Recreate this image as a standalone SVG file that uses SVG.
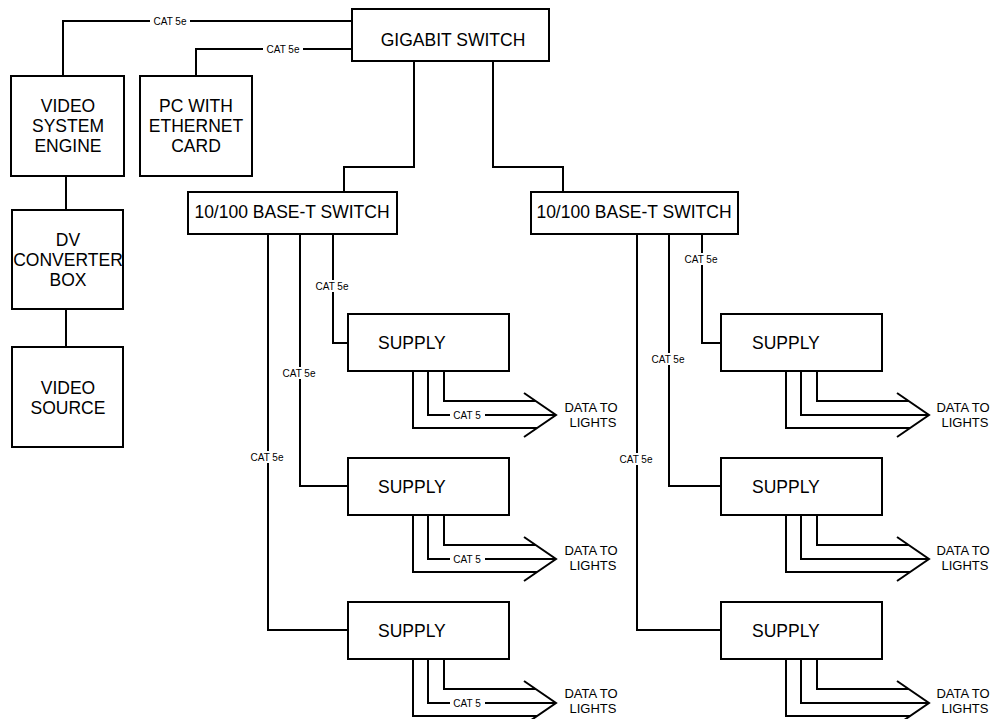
<svg xmlns="http://www.w3.org/2000/svg" width="996" height="719" viewBox="0 0 996 719">
<style>
.box{fill:#fff;stroke:#000;stroke-width:2}
.ln{fill:none;stroke:#000;stroke-width:2}
.t{font-family:"Liberation Sans",Arial,sans-serif;font-size:17.5px;fill:#000;text-anchor:middle}
.ts{font-family:"Liberation Sans",Arial,sans-serif;font-size:17.5px;fill:#000}
.lb{font-family:"Liberation Sans",Arial,sans-serif;font-size:10px;fill:#000;text-anchor:middle}
.dl{font-family:"Liberation Sans",Arial,sans-serif;font-size:13px;fill:#000;text-anchor:middle}
.gap{fill:#fff}
</style>
<rect width="996" height="719" fill="#fff"/>
<g id="connectors">
<path class="ln" d="M352,21H63V76"/>
<path class="ln" d="M352,49H196V76"/>
<path class="ln" d="M66,176V210"/>
<path class="ln" d="M66,309V347"/>
<path class="ln" d="M414,61V167H344V192"/>
<path class="ln" d="M493,61V167H563V192"/>
<path class="ln" d="M333,234V343H348"/>
<path class="ln" d="M300,234V486H348"/>
<path class="ln" d="M268,234V630H348"/>
<path class="ln" d="M702,234V343H721"/>
<path class="ln" d="M669,234V486H721"/>
<path class="ln" d="M637,234V630H721"/>
<g id="out-l1" transform="translate(348,314)">
<path class="ln" d="M96,57V87H188M80,57V101H208M65,57V114H189M176,79L208,101L176,123"/>
</g>
<g id="out-l2" transform="translate(348,458)">
<path class="ln" d="M96,57V87H188M80,57V101H208M65,57V114H189M176,79L208,101L176,123"/>
</g>
<g id="out-l3" transform="translate(348,602)">
<path class="ln" d="M96,57V87H188M80,57V101H208M65,57V114H189M176,79L208,101L176,123"/>
</g>
<g id="out-r1" transform="translate(721,314)">
<path class="ln" d="M96,57V87H188M80,57V101H208M65,57V114H189M176,79L208,101L176,123"/>
</g>
<g id="out-r2" transform="translate(721,458)">
<path class="ln" d="M96,57V87H188M80,57V101H208M65,57V114H189M176,79L208,101L176,123"/>
</g>
<g id="out-r3" transform="translate(721,602)">
<path class="ln" d="M96,57V87H188M80,57V101H208M65,57V114H189M176,79L208,101L176,123"/>
</g>
<rect class="gap" x="150" y="15" width="40" height="12"/>
<text class="lb" x="170" y="24.6">CAT 5e</text>
<rect class="gap" x="263" y="43" width="40" height="12"/>
<text class="lb" x="283" y="52.6">CAT 5e</text>
<rect class="gap" x="313" y="280" width="40" height="12"/>
<text class="lb" x="332" y="289.6">CAT 5e</text>
<rect class="gap" x="280" y="367" width="40" height="12"/>
<text class="lb" x="299" y="376.6">CAT 5e</text>
<rect class="gap" x="248" y="451" width="40" height="12"/>
<text class="lb" x="267" y="460.6">CAT 5e</text>
<rect class="gap" x="682" y="253" width="40" height="12"/>
<text class="lb" x="701" y="262.6">CAT 5e</text>
<rect class="gap" x="649" y="353" width="40" height="12"/>
<text class="lb" x="668" y="362.6">CAT 5e</text>
<rect class="gap" x="617" y="453" width="40" height="12"/>
<text class="lb" x="636" y="462.6">CAT 5e</text>
<rect class="gap" x="450" y="409" width="35" height="12"/>
<text class="lb" x="467" y="418.6">CAT 5</text>
<rect class="gap" x="450" y="553" width="35" height="12"/>
<text class="lb" x="467" y="562.6">CAT 5</text>
<rect class="gap" x="450" y="697" width="35" height="12"/>
<text class="lb" x="467" y="706.6">CAT 5</text>
</g>
<g id="gigabit-switch">
<rect class="box" x="352" y="9" width="197" height="52"/>
<text class="t" x="453" y="46">GIGABIT SWITCH</text>
</g>
<g id="video-system-engine">
<rect class="box" x="11" y="76" width="113" height="100"/>
<text class="t" x="68" y="112">VIDEO</text>
<text class="t" x="68" y="132">SYSTEM</text>
<text class="t" x="68" y="152">ENGINE</text>
</g>
<g id="pc">
<rect class="box" x="140" y="76" width="112" height="100"/>
<text class="t" x="196" y="112">PC WITH</text>
<text class="t" x="196" y="132">ETHERNET</text>
<text class="t" x="196" y="152">CARD</text>
</g>
<g id="dv-converter">
<rect class="box" x="12" y="210" width="111" height="99"/>
<text class="t" x="68" y="246">DV</text>
<text class="t" x="68" y="266">CONVERTER</text>
<text class="t" x="68" y="286">BOX</text>
</g>
<g id="video-source">
<rect class="box" x="12" y="347" width="111" height="100"/>
<text class="t" x="68" y="394">VIDEO</text>
<text class="t" x="68" y="414">SOURCE</text>
</g>
<g id="switch-left">
<rect class="box" x="188" y="192" width="209" height="42"/>
<text class="t" x="292" y="218">10/100 BASE-T SWITCH</text>
</g>
<g id="switch-right">
<rect class="box" x="531" y="192" width="207" height="42"/>
<text class="t" x="634" y="218">10/100 BASE-T SWITCH</text>
</g>
<g id="supply-l1">
<rect class="box" x="348" y="314" width="161" height="57"/>
<text class="ts" x="378" y="349">SUPPLY</text>
</g>
<g id="supply-l2">
<rect class="box" x="348" y="458" width="161" height="57"/>
<text class="ts" x="378" y="493">SUPPLY</text>
</g>
<g id="supply-l3">
<rect class="box" x="348" y="602" width="161" height="57"/>
<text class="ts" x="378" y="637">SUPPLY</text>
</g>
<g id="supply-r1">
<rect class="box" x="721" y="314" width="161" height="57"/>
<text class="ts" x="752" y="349">SUPPLY</text>
</g>
<g id="supply-r2">
<rect class="box" x="721" y="458" width="161" height="57"/>
<text class="ts" x="752" y="493">SUPPLY</text>
</g>
<g id="supply-r3">
<rect class="box" x="721" y="602" width="161" height="57"/>
<text class="ts" x="752" y="637">SUPPLY</text>
</g>
<g id="data-labels">
<text class="dl" x="591" y="411.5">DATA TO</text>
<text class="dl" x="593" y="426.5">LIGHTS</text>
<text class="dl" x="591" y="555">DATA TO</text>
<text class="dl" x="593" y="570">LIGHTS</text>
<text class="dl" x="591" y="698">DATA TO</text>
<text class="dl" x="593" y="713">LIGHTS</text>
<text class="dl" x="963" y="411.5">DATA TO</text>
<text class="dl" x="965" y="426.5">LIGHTS</text>
<text class="dl" x="963" y="555">DATA TO</text>
<text class="dl" x="965" y="570">LIGHTS</text>
<text class="dl" x="963" y="698">DATA TO</text>
<text class="dl" x="965" y="713">LIGHTS</text>
</g>
</svg>
